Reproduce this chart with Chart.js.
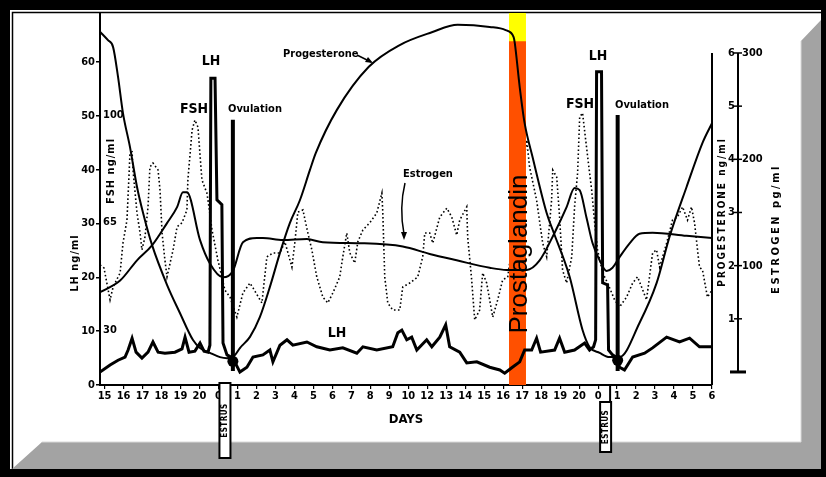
<!DOCTYPE html>
<html>
<head>
<meta charset="utf-8">
<script src="https://cdn.jsdelivr.net/npm/chart.js@4.4.1/dist/chart.umd.min.js"></script>
<style>
  html, body { margin: 0; padding: 0; background: #000; }
  #wrap { position: relative; width: 826px; height: 477px; overflow: hidden; }
  #frame, #chart { position: absolute; left: 0; top: 0; }
</style>
</head>
<body>
<div id="wrap">
  <svg id="frame" width="826" height="477">
    <rect x="0" y="0" width="826" height="477" fill="#000"/>
    <rect x="10" y="10" width="811" height="459" fill="#fff"/>
    <polyline points="12.5,469 12.5,12.5 821,12.5" fill="none" stroke="#000" stroke-width="1.5"/>
    <polygon points="12,469 42,442 801,442 801,41 821,20 821,469" fill="#a3a3a3"/>
    <polyline points="42,442 801,442 801,41" fill="none" stroke="#d9d9d9" stroke-width="1"/>
  </svg>
  <canvas id="chart" width="826" height="477"></canvas>
</div>
<script>
// x positions are day slots (0 = first "15", 32 = last "6")
const dayLabels = ['15','16','17','18','19','20','0','1','2','3','4','5','6','7','8','9','10',
                   '12','13','14','15','16','17','18','19','20','0','1','2','3','4','5','6'];
const lhTicks = [0, 10, 20, 30, 40, 50, 60];
const fshTicks = [30, 65, 100];
const progTicks = [1, 2, 3, 4, 5, 6];
const estroTicks = [100, 200, 300];

// LH ng/ml
const lh = [
  [-0.24,2.4],[0.29,3.7],[0.71,4.6],[1.08,5.2],[1.24,6.5],[1.45,8.7],[1.66,6.1],[1.97,5.0],[2.29,6.1],
  [2.55,8.0],[2.82,6.1],[3.18,5.9],[3.71,6.1],[4.08,6.7],[4.24,8.9],[4.45,6.1],[4.76,6.3],[5.03,7.8],
  [5.24,6.3],[5.45,6.1],[5.55,7.4],[5.6,57],[5.82,57],[5.92,34.4],[6.18,33.5],[6.24,7.8],[6.45,5.6],
  [6.76,5.0],[7.13,2.4],[7.5,3.3],[7.82,5.2],[8.34,5.6],[8.71,6.5],[8.87,4.3],[9.24,7.4],[9.61,8.4],
  [9.92,7.4],[10.66,8.0],[11.18,7.1],[11.87,6.5],[12.55,6.9],[13.29,5.9],[13.61,7.1],[14.34,6.5],
  [15.18,7.1],[15.45,9.7],[15.66,10.2],[15.92,8.4],[16.18,8.9],[16.45,6.5],[16.97,8.4],[17.24,7.1],
  [17.66,8.9],[17.97,11.2],[18.18,7.1],[18.71,6.1],[19.08,4.1],[19.61,4.3],[20.29,3.3],[20.82,2.8],
  [21.08,2.2],[21.45,3.2],[21.87,4.3],[22.13,6.5],[22.5,6.5],[22.76,8.7],[22.97,6.1],[23.71,6.5],
  [23.97,8.7],[24.24,6.1],[24.76,6.5],[25.29,7.8],[25.55,6.5],[25.76,7.1],[25.87,8.4],[25.92,58.2],
  [26.18,58.2],[26.24,19.0],[26.5,18.6],[26.55,6.5],[26.76,5.6],[27.03,5.0],[27.13,3.3],[27.39,2.8],
  [27.82,5.2],[28.45,5.9],[28.87,6.9],[29.61,8.9],[30.29,8.0],[30.82,8.7],[31.34,7.1],[32,7.1]
];

// FSH ng/ml
const fsh = [
  [-0.24,51.2],[-0.03,50.2],[0.29,39.8],[0.45,44.0],[0.82,48.6],[0.97,58.3],[1.18,65.8],[1.29,80.5],
  [1.34,87.7],[1.45,88.0],[1.5,82.1],[1.61,74.6],[1.71,68.1],[1.87,61.6],[1.97,56.1],[2.13,60.3],
  [2.29,70.1],[2.39,83.1],[2.55,84.4],[2.82,82.1],[2.92,75.6],[3.03,61.6],[3.18,52.8],[3.29,47.3],
  [3.61,56.1],[3.82,63.6],[4.08,64.9],[4.34,69.1],[4.39,78.9],[4.61,95.1],[4.76,98.4],[4.92,96.1],
  [5.13,78.9],[5.39,74.6],[5.45,72.3],[5.66,62.6],[5.97,52.8],[6.34,43.0],[6.61,40.7],[6.97,34.2],
  [7.29,42.1],[7.66,45.3],[7.82,43.7],[8.29,38.8],[8.55,53.8],[8.87,55.1],[9.24,55.1],[9.5,58.7],
  [9.87,50.5],[10.03,58.7],[10.18,68.4],[10.45,69.1],[10.71,61.6],[10.92,56.1],[11.18,47.3],[11.5,40.7],
  [11.76,38.8],[12.03,42.1],[12.39,47.3],[12.55,53.8],[12.76,61.6],[12.92,55.1],[13.18,51.8],[13.34,58.7],
  [13.61,62.6],[13.97,64.9],[14.34,68.1],[14.61,74.6],[14.66,68.1],[14.76,47.3],[14.92,38.8],[15.18,36.5],
  [15.55,36.5],[15.71,44.0],[16.08,45.3],[16.5,47.3],[16.76,53.8],[16.87,61.6],[17.13,61.6],[17.29,58.3],
  [17.66,66.8],[18.03,69.7],[18.29,66.8],[18.55,60.9],[18.71,65.8],[19.08,70.1],[19.13,60.3],[19.34,46.3],
  [19.5,33.3],[19.76,36.5],[19.92,48.6],[20.13,45.3],[20.45,34.2],[20.71,39.8],[20.97,46.3],[21.24,47.3],
  [22.24,91.9],[22.39,83.1],[22.76,72.3],[23.08,58.3],[23.29,53.8],[23.55,72.3],[23.61,82.1],[23.82,79.8],
  [23.97,66.8],[24.13,49.5],[24.34,45.3],[24.61,53.8],[24.76,70.1],[24.92,81.1],[25.03,99.4],[25.18,100.7],
  [25.45,86.4],[25.66,75.6],[25.82,64.9],[25.97,56.1],[26.24,48.6],[26.5,45.3],[26.87,39.8],[27.13,37.5],
  [27.5,40.7],[27.82,45.3],[28.08,47.3],[28.29,44.0],[28.55,39.8],[28.87,55.1],[29.08,56.1],[29.24,50.5],
  [29.61,58.3],[29.92,65.8],[30.18,66.8],[30.45,70.1],[30.71,65.8],[30.92,70.1],[31.08,64.9],[31.34,50.5],
  [31.5,49.5],[31.76,40.7],[32,43.0]
];

// Progesterone ng/ml
const progesterone = [
  [-0.24,6.4],[0.18,6.24],[0.45,6.11],[0.71,5.55],[0.97,4.87],[1.34,4.23],[1.71,3.48],[2.03,2.99],
  [2.5,2.39],[3.29,1.64],[3.97,1.11],[4.66,0.60],[5.03,0.45],[5.55,0.36],[6.08,0.28],[6.45,0.26],
  [6.87,0.32],[7.13,0.45],[7.66,0.66],[8.18,1.03],[8.71,1.60],[9.24,2.24],[9.76,2.80],[10.29,3.23],
  [10.82,3.80],[11.13,4.12],[12.24,4.93],[13.92,5.74],[15.55,6.15],[17.24,6.39],[18.6,6.53],[20.29,6.49],
  [21.13,6.43],[21.55,6.30],[21.61,6.19],[21.87,5.36],[22.13,4.68],[22.55,4.04],[23.29,2.99],[23.61,2.67],
  [24.5,1.79],[25.18,0.79],[25.55,0.47],[26.08,0.36],[26.6,0.28],[27.13,0.28],[28.18,0.92],[29.08,1.67],
  [29.76,2.54],[30.66,3.48],[31.5,4.31],[32,4.68]
];

// Estrogen pg/ml
const estrogen = [
  [-0.24,75],[0.82,86],[1.71,105],[2.5,119],[3.29,140],[3.82,155],[4.13,169],[4.34,169],[5.03,124],
  [5.55,102],[6.24,89],[6.76,95],[7.29,122],[8.03,126],[8.34,126],[9.39,124],[10.66,125],[11.5,122],
  [13.61,121],[15.71,118],[17.13,111],[18.55,105],[20.29,98],[21.18,96],[22.24,96],[22.92,105],
  [23.71,131],[24.34,155],[24.76,173],[25.03,171],[25.39,145],[25.71,121],[26.08,105],[26.45,95],
  [26.76,98],[27.13,108],[27.66,121],[28.18,130],[28.87,131],[30.66,128],[32,126]
];

// ovulation markers (LH scale), prostaglandin treatment band
const ovulationA = [[6.76,2.6],[6.76,4.4],[6.76,49.3]];
const ovulationB = [[27.03,2.6],[27.03,4.6],[27.03,50.2]];
const pgBand = [[21.3,63.9],[22.2,63.9]];
const pgBandTop = [[21.3,69.2],[22.2,69.2]];

const pts = a => a.map(([x, y]) => ({x, y}));
const FONT = "'Liberation Sans Narrow', 'DejaVu Sans Condensed', sans-serif";

function vtext(ctx, text, x, y, font, spacing) {
  ctx.save();
  ctx.translate(x, y);
  ctx.rotate(-Math.PI / 2);
  ctx.font = font;
  if (spacing) ctx.letterSpacing = spacing;
  ctx.textAlign = 'center';
  ctx.textBaseline = 'middle';
  ctx.fillText(text, 0, 0);
  ctx.restore();
}

const decor = {
  id: 'decor',
  afterDatasetsDraw(chart) {
    const {ctx, scales: {x}} = chart;
    ctx.save();
    ctx.fillStyle = '#000';
    ctx.strokeStyle = '#000';

    // Prostaglandin label
    ctx.save();
    ctx.translate(x.getPixelForValue(22.2) + 1, 254);
    ctx.rotate(-Math.PI / 2);
    ctx.font = "26px 'Liberation Sans', Arial, sans-serif";
    ctx.textAlign = 'center';
    ctx.textBaseline = 'alphabetic';
    ctx.fillText('Prostaglandin', 0, 0);
    ctx.restore();

    // curve captions
    ctx.textBaseline = 'middle';
    ctx.textAlign = 'center';
    ctx.font = 'bold 14px ' + FONT;
    ctx.fillText('LH', 211, 61);
    ctx.fillText('LH', 598, 56);
    ctx.fillText('LH', 337, 333);
    ctx.fillText('FSH', 194, 109);
    ctx.fillText('FSH', 580, 104);
    ctx.textAlign = 'left';
    ctx.font = 'bold 11px ' + FONT;
    ctx.fillText('Ovulation', 228, 109);
    ctx.fillText('Ovulation', 615, 105);
    ctx.fillText('Progesterone', 283, 54);
    ctx.fillText('Estrogen', 403, 174);

    ctx.lineWidth = 1.5;
    ctx.beginPath();
    ctx.moveTo(357, 55);
    ctx.lineTo(371, 62);
    ctx.stroke();
    ctx.beginPath();
    ctx.moveTo(373, 63); ctx.lineTo(365, 62); ctx.lineTo(368, 57);
    ctx.closePath(); ctx.fill();

    ctx.beginPath();
    ctx.moveTo(405, 183);
    ctx.quadraticCurveTo(399, 208, 404, 234);
    ctx.stroke();
    ctx.beginPath();
    ctx.moveTo(401, 232); ctx.lineTo(407, 232); ctx.lineTo(404, 240);
    ctx.closePath(); ctx.fill();
    ctx.restore();
  },
  afterDraw(chart) {
    const {ctx, chartArea, scales: {x, yP, yE}} = chart;
    ctx.save();
    ctx.fillStyle = '#000';
    ctx.strokeStyle = '#000';

    // right plot border
    ctx.lineWidth = 2;
    ctx.beginPath();
    ctx.moveTo(chartArea.right, yP.getPixelForValue(6));
    ctx.lineTo(chartArea.right, chartArea.bottom);
    ctx.stroke();

    // progesterone / estrogen axis
    const ax = chartArea.right + 26;
    const y0 = yP.getPixelForValue(0);
    ctx.beginPath();
    ctx.moveTo(ax, yP.getPixelForValue(6));
    ctx.lineTo(ax, y0);
    ctx.stroke();
    ctx.lineWidth = 3;
    ctx.beginPath();
    ctx.moveTo(ax - 8, y0); ctx.lineTo(ax + 8, y0);
    ctx.stroke();
    ctx.lineWidth = 1.5;
    ctx.font = 'bold 11px ' + FONT;
    ctx.textBaseline = 'middle';
    ctx.textAlign = 'right';
    progTicks.forEach(v => {
      const py = yP.getPixelForValue(v);
      ctx.beginPath(); ctx.moveTo(ax - 4, py); ctx.lineTo(ax + 4, py); ctx.stroke();
      ctx.fillText(String(v), ax - 3, py);
    });
    ctx.textAlign = 'left';
    estroTicks.forEach(v => ctx.fillText(String(v), ax + 4, yE.getPixelForValue(v)));

    // axis titles
    vtext(ctx, 'LH ng/ml', 75, 263, 'bold 11px ' + FONT, '1px');
    vtext(ctx, 'FSH ng/ml', 111, 171, 'bold 11px ' + FONT, '1px');
    vtext(ctx, 'PROGESTERONE ng/ml', 722, 212, 'bold 10px ' + FONT, '2px');
    vtext(ctx, 'ESTROGEN pg/ml', 776, 229, 'bold 11px ' + FONT, '2.5px');

    // estrus boxes
    const boxes = [[x.getPixelForValue(6) + 1, chartArea.bottom - 2, 75], [x.getPixelForValue(26) + 2, 402, 50]];
    boxes.forEach(([bx, by, h], i) => {
      if (i === 1) {
        ctx.lineWidth = 2;
        ctx.beginPath(); ctx.moveTo(bx + 10, chartArea.bottom); ctx.lineTo(bx + 10, by); ctx.stroke();
      }
      ctx.fillStyle = '#fff';
      ctx.fillRect(bx, by, 11, h);
      ctx.lineWidth = 2;
      ctx.strokeRect(bx, by, 11, h);
      ctx.fillStyle = '#000';
      vtext(ctx, 'ESTRUS', bx + 5.5, by + h / 2, 'bold 8px ' + FONT, '0.5px');
    });
    ctx.restore();
  }
};

new Chart(document.getElementById('chart'), {
  type: 'line',
  data: {
    datasets: [
      { label: 'LH', data: pts(lh), yAxisID: 'y', borderColor: '#000', borderWidth: 3, tension: 0 },
      { label: 'Progesterone', data: pts(progesterone), yAxisID: 'yP', borderColor: '#000', borderWidth: 2,
        cubicInterpolationMode: 'monotone' },
      { label: 'Estrogen', data: pts(estrogen), yAxisID: 'yE', borderColor: '#000', borderWidth: 2,
        cubicInterpolationMode: 'monotone' },
      { label: 'Ovulation', data: pts(ovulationA), yAxisID: 'y', borderColor: '#000', borderWidth: 4,
        pointRadius: [0, 5.5, 0], pointBackgroundColor: '#000', pointBorderWidth: 0 },
      { label: 'Ovulation 2', data: pts(ovulationB), yAxisID: 'y', borderColor: '#000', borderWidth: 4,
        pointRadius: [0, 5.5, 0], pointBackgroundColor: '#000', pointBorderWidth: 0 },
      { label: 'Prostaglandin', data: pts(pgBand), yAxisID: 'y', fill: 'origin',
        backgroundColor: '#ff5000', borderColor: 'rgba(0,0,0,0)', borderWidth: 0 },
      { label: 'Prostaglandin top', data: pts(pgBandTop), yAxisID: 'y', fill: 'origin',
        backgroundColor: '#ffff00', borderColor: 'rgba(0,0,0,0)', borderWidth: 0 },
      { label: 'FSH', data: pts(fsh), yAxisID: 'yF', borderColor: '#000', borderWidth: 1.6,
        borderDash: [1.6, 2.4], tension: 0 }
    ]
  },
  options: {
    responsive: false,
    animation: false,
    layout: { padding: { left: 60, right: 114, top: 13, bottom: 48 } },
    elements: { point: { radius: 0 }, line: { borderCapStyle: 'butt' } },
    plugins: { legend: { display: false }, tooltip: { enabled: false } },
    scales: {
      x: {
        type: 'linear', min: -0.24, max: 32,
        afterBuildTicks: s => { s.ticks = dayLabels.map((_, i) => ({ value: i })); },
        afterFit: s => { s.height = 44; },
        ticks: { autoSkip: false, maxRotation: 0, padding: 1, color: '#000',
                 font: { family: FONT, size: 11, weight: 'bold' },
                 callback: v => dayLabels[v] },
        grid: { drawOnChartArea: false, tickLength: 4, color: '#000', lineWidth: 1.2 },
        border: { color: '#000', width: 2 },
        title: { display: true, text: 'DAYS', color: '#000', padding: { top: 0, bottom: 2 },
                 font: { family: FONT, size: 13, weight: 'bold' } }
      },
      y: {
        position: 'left', weight: 1, min: 0, max: 69.14,
        afterBuildTicks: s => { s.ticks = lhTicks.map(v => ({ value: v })); },
        afterFit: s => { s.width = 40; },
        ticks: { padding: 1, color: '#000', font: { family: FONT, size: 11, weight: 'bold' } },
        grid: { drawOnChartArea: false, tickLength: 4, color: '#000', lineWidth: 1.5 },
        border: { color: '#000', width: 2 }
      },
      yF: {
        position: 'left', weight: 0, min: 12.08, max: 133.26,
        afterBuildTicks: s => { s.ticks = fshTicks.map(v => ({ value: v })); },
        afterFit: s => { s.width = 0; },
        ticks: { mirror: true, padding: 3, color: '#000', font: { family: FONT, size: 11, weight: 'bold' } },
        grid: { display: false },
        border: { display: false }
      },
      yP: { display: false, position: 'right', min: -0.245, max: 6.752 },
      yE: { display: false, position: 'right', min: -12.25, max: 337.6 }
    }
  },
  plugins: [decor]
});
</script>
</body>
</html>
